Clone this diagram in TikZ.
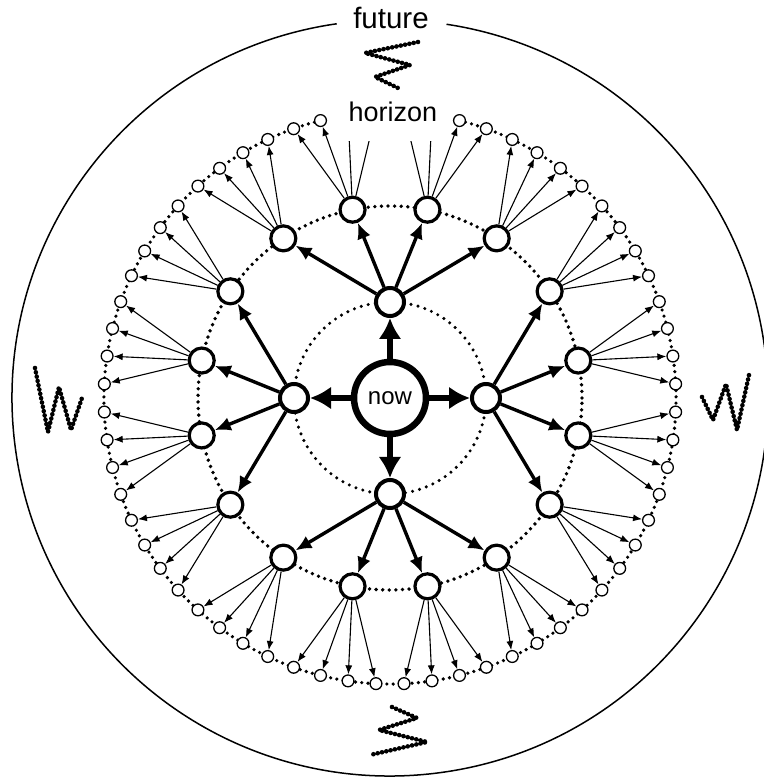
\documentclass[tikz,border=0pt]{standalone}
\usepackage{fontspec}
\setmainfont{Liberation Sans}
\usetikzlibrary{arrows.meta,calc}
\tikzset{
  nownode/.style={circle, draw, line width=6.5pt, fill=white, minimum size=72pt, inner sep=0pt, font=\fontsize{24}{28}\selectfont},
  firstnode/.style={circle, draw, line width=4pt, fill=white, minimum size=28pt, inner sep=0pt},
  secondnode/.style={circle, draw, line width=3.2pt, fill=white, minimum size=25pt, inner sep=0pt},
  leafnode/.style={circle, draw, line width=1.3pt, fill=white, minimum size=11.8pt, inner sep=0pt},
  bigarrow/.style={-{Latex[length=21pt, width=23pt]}, line width=6pt},
  midarrow/.style={-{Latex[length=16pt, width=14pt]}, line width=3.4pt},
  thinarrow/.style={-{Latex[length=9pt, width=7pt]}, line width=1.1pt},
  innerring/.style={line width=3.4pt, line cap=round, dash pattern=on 0pt off 7.2pt},
  midring/.style={line width=3.8pt, line cap=round, dash pattern=on 0pt off 6.6pt},
  outerring/.style={line width=3.6pt, line cap=round, dash pattern=on 0pt off 6.3pt},
  zigzag/.style={line width=4.6pt, line cap=round, line join=round, dash pattern=on 0pt off 4.4pt},
  wordnode/.style={inner sep=0pt, anchor=base}
}

\begin{document}
\begin{tikzpicture}[x=1pt, y=1pt]
  \useasboundingbox (-390,-380) rectangle (373,398);
  % rings and the world around them
  \draw[line width=1.5pt] (98.1:378) arc[start angle=98.1, end angle=441.4, radius=378];
  \draw[innerring] (0,0) circle[radius=96];
  \draw[midring] (0,0) circle[radius=192];
  \draw[outerring] (104.0625:286) arc[start angle=104.0625, end angle=435.9375, radius=286];
  \node[wordnode, font=\fontsize{29.5}{34}\selectfont] (future) at (1,369) {future};
  \node[wordnode, font=\fontsize{27}{32}\selectfont] (horizon) at (3,276) {horizon};
  % zigzags
  \draw[zigzag] (28,356) -- (-25,345) -- (20,333) -- (-15,321) -- (8,310);
  \draw[zigzag] (2,-309) -- (27,-320) -- (-11,-332) -- (37,-344) -- (-20,-357);
  \draw[zigzag] (-355,30) -- (-342,-34) -- (-331,11) -- (-319,-32) -- (-308,0);
  \draw[zigzag] (312,1) -- (323,-22) -- (336,14) -- (347,-32) -- (359,23);
  % nodes
  \node[nownode] (now) at (0,0) {now};
  \foreach \i in {0,...,3}
    \node[firstnode] (f\i) at ({90*\i}:96) {};
  \foreach \j in {0,...,15}{
    \pgfmathtruncatemacro{\up}{mod(floor((\j+2)/4),4)}
    \node[secondnode] (s\j) at ({11.25+22.5*\j}:192) {};
    \draw[midarrow] (f\up) -- (s\j);
  }
  \foreach \i in {0,...,3}
    \draw[bigarrow] (now) -- (f\i);
  % leaves, the four under the horizon left open
  \foreach \k in {0,...,63}{
    \pgfmathtruncatemacro{\up}{floor(\k/4)}
    \ifnum\k<14 \def\vis{1}\else\ifnum\k>17 \def\vis{1}\else\def\vis{0}\fi\fi
    \ifnum\vis=1
      \node[leafnode] (l\k) at ({2.8125+5.625*\k}:286) {};
      \draw[thinarrow] (s\up) -- (l\k);
    \else
      \coordinate (l\k) at ({2.8125+5.625*\k}:286);
      \begin{scope}
        \clip (-100,0) rectangle (100,256);
        \draw[line width=1.1pt] (s\up) -- (l\k);
      \end{scope}
    \fi
  }
\end{tikzpicture}
\end{document}
